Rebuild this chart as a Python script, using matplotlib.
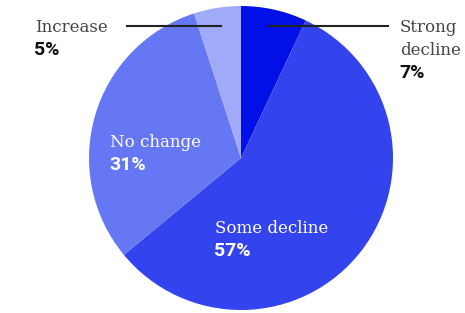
import matplotlib.pyplot as plt

labels = ["Strong\ndecline", "Some decline", "No change", "Increase"]
values = [7, 57, 31, 5]
pcts = ["7%", "57%", "31%", "5%"]
COLORS = ["#0010e6", "#3344ee", "#6677f4", "#a0aaf8"]

W, H = 465, 313
fig = plt.figure(figsize=(W / 100, H / 100), dpi=100)
ax = fig.add_axes([0, 0, 1, 1])

# y axis runs downward, so start at -90 to put the first wedge at 12 o'clock
cx, cy, r = 241, 158, 152
ax.pie(values, colors=COLORS, startangle=-90, counterclock=True, radius=r,
       center=(cx, cy), frame=True, wedgeprops=dict(linewidth=0))
ax.set_xlim(0, W)
ax.set_ylim(H, 0)
ax.set_aspect("auto")
ax.axis("off")

serif = dict(family="DejaVu Serif", fontsize=12, va="baseline")
bold = dict(family="Roboto", fontsize=14, fontweight="bold", va="baseline")

# leader lines
ax.plot([127, 221], [26, 26], color="#222222", lw=1.5)
ax.plot([269, 388], [26, 26], color="#222222", lw=1.5)

ax.text(35, 32, labels[3], color="#444444", **serif)
ax.text(34, 55, pcts[3], color="#111111", **bold)
ax.text(400, 32, "Strong", color="#444444", **serif)
ax.text(400, 55, "decline", color="#444444", **serif)
ax.text(399, 78, pcts[0], color="#111111", **bold)
ax.text(110, 147, labels[2], color="white", **serif)
ax.text(109, 170, pcts[2], color="white", **bold)
ax.text(215, 233, labels[1], color="white", **serif)
ax.text(214, 256, pcts[1], color="white", **bold)

fig.savefig("out.png", dpi=100)
